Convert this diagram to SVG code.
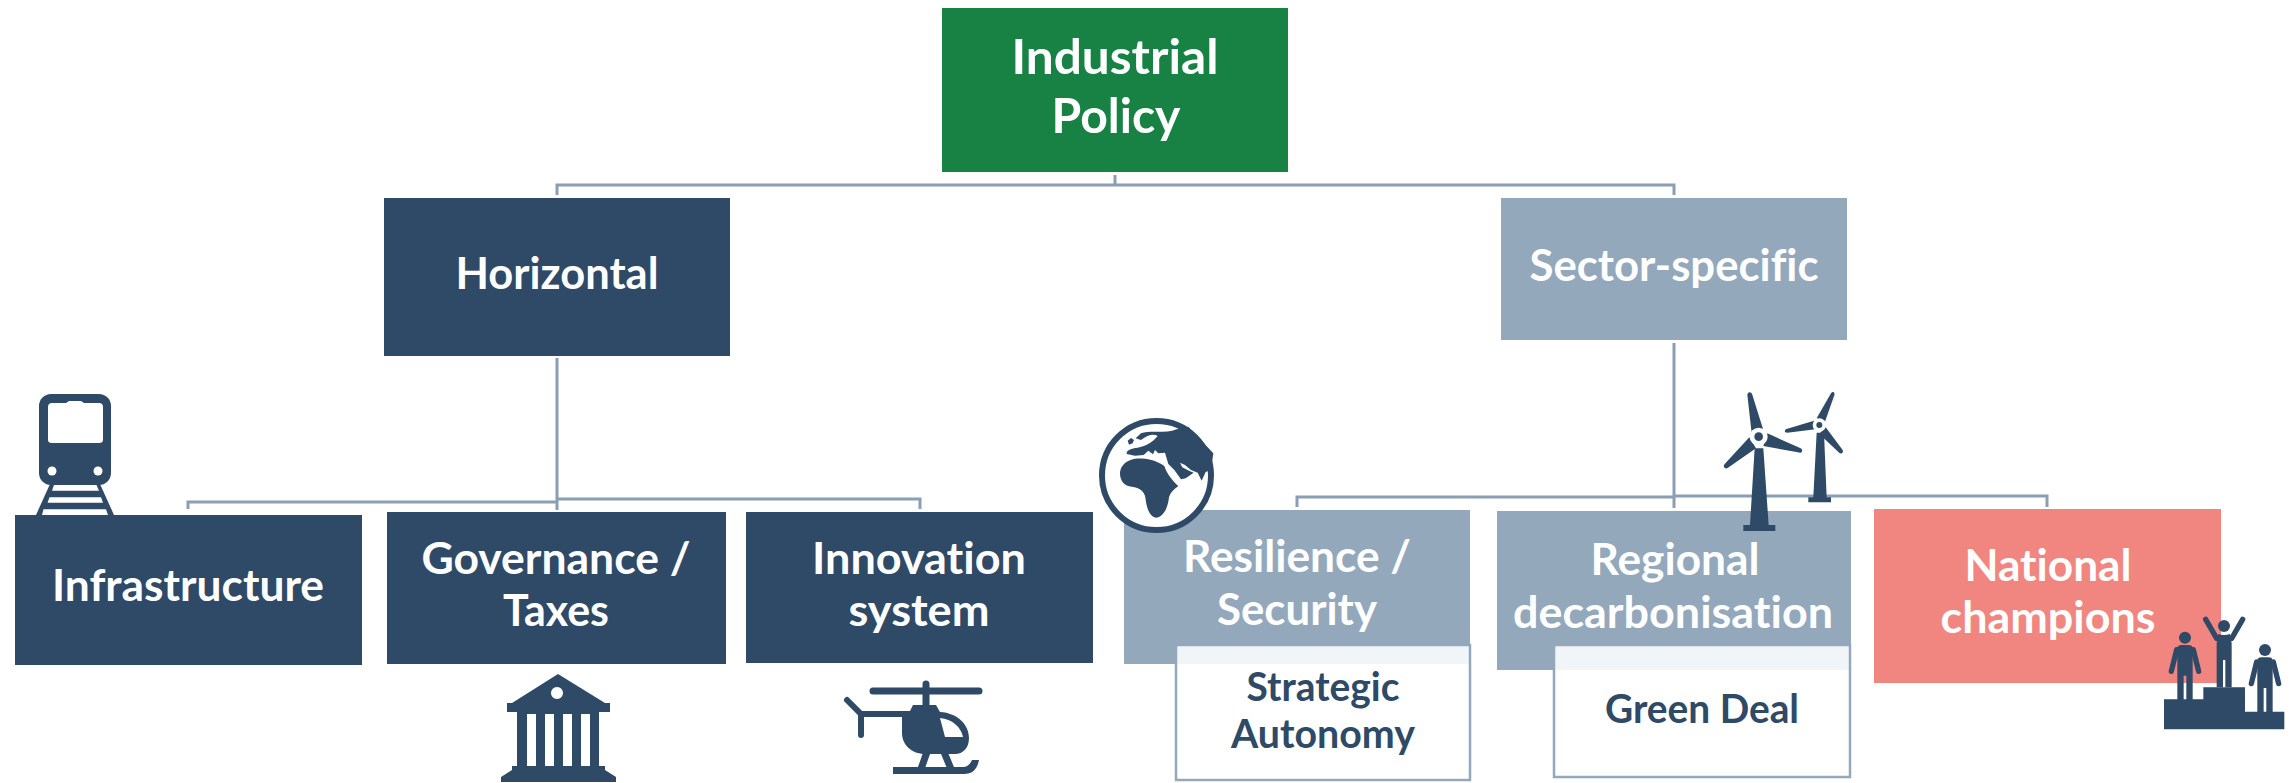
<svg xmlns="http://www.w3.org/2000/svg" xmlns:xlink="http://www.w3.org/1999/xlink" width="2295" height="783" viewBox="0 0 2295 783">
<style>
.t{font-family:"Lato","Noto Sans","Liberation Sans",sans-serif;font-weight:700;font-size:44px;text-anchor:middle;fill:#fff;font-variant-ligatures:none}
.top{font-size:48px}
.sub{fill:#2e4a66;font-size:40px}
.ic{fill:#2e4a66}
.w{fill:#fff}
.c{fill:none;stroke:#8a9eb4;stroke-width:3}
.r{fill:none;stroke:#2e4a66;stroke-linecap:round}
</style>
<rect width="2295" height="783" fill="#fff"/>
<defs>
<g id="person">
<circle cx="0" cy="-36" r="18" class="ic"/>
<path class="ic" d="M-23-4Q-23-14-10-14H10Q23-14 23-4V163H4V78H-4V163H-23Z"/>
<path class="r" stroke-width="16" d="M-25 0L-41 65M25 0L41 65"/>
</g>
</defs>
<g id="connectors">
<path class="c" d="M1115 175V185M557 195V185H1674V195"/>
<path class="c" d="M557 358V510M188 509V502H557M557 499H920V509"/>
<path class="c" d="M1674 343V508M1297 507V497H1674M1674 496H2047V507"/>
</g>
<g id="node-industrial-policy">
<rect x="942" y="8" width="346" height="164" fill="#178244"/>
<text class="t top" x="1115" y="74" textLength="207" lengthAdjust="spacingAndGlyphs">Industrial</text>
<text class="t top" x="1116" y="133" textLength="129" lengthAdjust="spacingAndGlyphs">Policy</text>
</g>
<g id="node-horizontal">
<rect x="384" y="198" width="346" height="158" fill="#2e4a66"/>
<text class="t" x="557" y="289" textLength="203" lengthAdjust="spacingAndGlyphs">Horizontal</text>
</g>
<g id="node-sector-specific">
<rect x="1501" y="198" width="346" height="142" fill="#94a8bc"/>
<text class="t" x="1674" y="281" textLength="289" lengthAdjust="spacingAndGlyphs">Sector-specific</text>
</g>
<g id="node-infrastructure">
<rect x="15" y="515" width="347" height="150" fill="#2e4a66"/>
<text class="t" x="188" y="601" textLength="272" lengthAdjust="spacingAndGlyphs">Infrastructure</text>
</g>
<g id="node-governance">
<rect x="387" y="512" width="339" height="152" fill="#2e4a66"/>
<text class="t" x="556" y="574" textLength="269" lengthAdjust="spacingAndGlyphs">Governance /</text>
<text class="t" x="556" y="626" textLength="106" lengthAdjust="spacingAndGlyphs">Taxes</text>
</g>
<g id="node-innovation">
<rect x="746" y="512" width="347" height="151" fill="#2e4a66"/>
<text class="t" x="919" y="574" textLength="214" lengthAdjust="spacingAndGlyphs">Innovation</text>
<text class="t" x="919" y="626" textLength="141" lengthAdjust="spacingAndGlyphs">system</text>
</g>
<g id="node-resilience">
<rect x="1124" y="510" width="346" height="154" fill="#94a8bc"/>
<text class="t" x="1297" y="572" textLength="228" lengthAdjust="spacingAndGlyphs">Resilience /</text>
<text class="t" x="1297" y="625" textLength="160" lengthAdjust="spacingAndGlyphs">Security</text>
</g>
<g id="node-regional">
<rect x="1497" y="511" width="354" height="159" fill="#94a8bc"/>
<text class="t" x="1675" y="575" textLength="169" lengthAdjust="spacingAndGlyphs">Regional</text>
<text class="t" x="1673" y="628" textLength="320" lengthAdjust="spacingAndGlyphs">decarbonisation</text>
</g>
<g id="node-national">
<rect x="1874" y="509" width="347" height="174" fill="#f18680"/>
<text class="t" x="2048" y="581" textLength="167" lengthAdjust="spacingAndGlyphs">National</text>
<text class="t" x="2048" y="633" textLength="215" lengthAdjust="spacingAndGlyphs">champions</text>
</g>
<g id="node-strategic-autonomy">
<rect x="1176" y="645" width="294" height="135" fill="#fff" fill-opacity=".88" stroke="#94a8bc" stroke-width="2.5"/>
<text class="t sub" x="1323" y="701" textLength="153" lengthAdjust="spacingAndGlyphs">Strategic</text>
<text class="t sub" x="1323" y="748" textLength="184" lengthAdjust="spacingAndGlyphs">Autonomy</text>
</g>
<g id="node-green-deal">
<rect x="1554" y="645" width="296" height="132" fill="#fff" fill-opacity=".88" stroke="#94a8bc" stroke-width="2.5"/>
<text class="t sub" x="1702" y="723" textLength="194" lengthAdjust="spacingAndGlyphs">Green Deal</text>
</g>
<g id="icon-train">
<rect x="39" y="394" width="72" height="91" rx="12" class="ic"/>
<path class="w" d="M52 403H66L69 401H81L84 403H99Q103 403 103 407V440Q103 443 99 443H52Q48 443 48 440V407Q48 403 52 403Z"/>
<circle cx="52" cy="471" r="4.5" class="w"/><circle cx="98" cy="471" r="4.5" class="w"/>
<path class="ic" d="M50 484H100L114 515H36Z"/>
<path class="w" d="M54 485H96.5L99 490.7H52ZM49.5 497.3H101L103 502.7H47.5ZM43.500 509.3H106L108 515H42Z"/>
</g>
<g id="icon-bank" class="ic">
<path fill-rule="evenodd" d="M558 674L605 703H610V712H599V766H605V770L616 777V782H501V777L512 770V766H517V712H507V703H512ZM557 687a6 6 0 1 0 .01 0ZM527 714V766H536V714ZM545 714V766H554V714ZM563 714V766H572V714ZM581 714V766H590V714Z"/>
</g>
<g id="icon-helicopter">
<path class="r" stroke-width="7" d="M873 691H979M926 684V706"/>
<path class="r" stroke-width="6" d="M910 714H861L847 700M861 714V735"/>
<path class="ic" d="M913 705H936L940 712C958 713 969 725 969 738C969 748 963 754 955 754H925C912 754 902 745 902 733V716L910 711Z"/>
<path class="w" d="M940 718C952 719 961 727 963 737H945Z"/>
<path class="ic" d="M893 767H963Q969 767 972 760H979C977 770 972 774 964 774H893Z"/>
<path class="r" stroke-width="7" d="M927 752L921 769M944 752L951 769" style="stroke-linecap:butt"/>
</g>
<g id="icon-globe">
<circle cx="1156.5" cy="475.5" r="54.5" fill="#fff" stroke="#2e4a66" stroke-width="6"/>
<g transform="translate(1085 410) scale(.3333)" class="ic">
<path d="M105 187C108 165 125 150 150 146C175 144 210 148 238 168C245 190 262 212 280 228C268 238 258 244 252 262C250 285 240 318 215 323C195 322 185 298 181 262C178 245 165 232 140 230C118 228 104 212 105 187Z"/>
<path d="M125 132C123 120 140 115 158 113C180 108 200 100 218 78C205 70 188 75 168 90L152 85L168 70C195 60 240 72 275 58L310 50L385 130L378 180L362 186L350 212L338 188L318 180L300 165L285 158L292 172L312 182L326 188L302 205L288 208L268 180L250 162L240 128L220 130L210 120L204 133L190 122L176 135L150 137Z"/>
<path d="M128 92L138 84L147 90L143 100L132 104Z"/>
</g>
</g>
<g id="icon-wind-turbines">
<g transform="translate(1710 380) scale(.3333)" class="ic">
<path d="M134 205H160L176 435H196V453H100V435H120Z"/>
<path d="M112 44C114 34 124 34 127 44L160 150L125 160Z"/>
<path d="M172 160L272 205C282 212 274 222 264 217L160 198Z"/>
<path d="M118 172L138 205L54 263C46 270 37 260 44 252Z"/>
<circle cx="146" cy="170" r="27" class="w"/><circle cx="146" cy="170" r="13"/>
<path d="M320 158H342L350 352H363V367H295V352H310Z"/>
<path d="M363 40C368 32 376 36 373 46L345 125L320 115Z"/>
<path d="M312 122L316 148L232 158C222 158 222 148 232 146Z"/>
<path d="M346 140L398 210C402 220 392 224 386 217L328 162Z"/>
<circle cx="328" cy="135" r="20" class="w"/><circle cx="328" cy="135" r="9"/>
</g>
</g>
<g id="icon-podium">
<g transform="translate(2150 600) scale(.3333)">
<use href="#person" x="105" y="149"/>
<use href="#person" x="345" y="186"/>
<circle cx="222" cy="78" r="18" class="ic"/>
<path class="r" stroke-width="16" d="M200 115L167 58M245 115L278 58"/>
<path class="ic" d="M205 102Q222 108 240 102L245 130V262H226V180H219V262H200V130Z"/>
<path class="ic" d="M42 298H160V262H285V335H403V388H42Z"/>
</g>
</g>
</svg>
